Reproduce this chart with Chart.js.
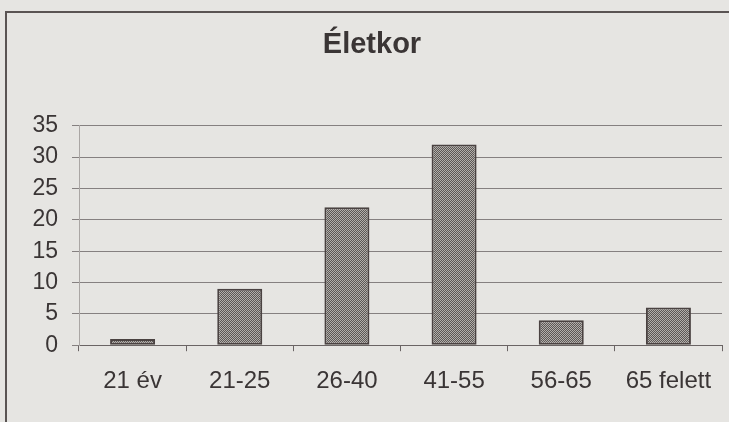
<!DOCTYPE html>
<html>
<head>
<meta charset="utf-8">
<script src="https://cdn.jsdelivr.net/npm/chart.js@4"></script>
<style>
  html, body { margin: 0; padding: 0; background: #e6e5e2; }
  #wrap { position: relative; width: 729px; height: 422px; overflow: hidden; }
  #frame {
    position: absolute; left: 5px; top: 11px; width: 740px; height: 430px;
    border-left: 2px solid #5a5453; border-top: 2px solid #5a5453;
  }
  canvas { position: absolute; left: 0; top: 0; }
</style>
</head>
<body>
<div id="wrap">
  <div id="frame"></div>
  <canvas id="myChart" width="729" height="422"></canvas>
</div>
<script>
// Életkor
var chartTitle = 'Életkor';
var ageGroups = ['21 év', '21-25', '26-40', '41-55', '56-65', '65 felett'];
var counts = [1, 9, 22, 32, 4, 6];
var yTicks = [0, 5, 10, 15, 20, 25, 30, 35];

// pöttyös minta az oszlopokhoz
function makePattern() {
    var pc = document.createElement('canvas');
    pc.width = 2;
    pc.height = 2;
    var p = pc.getContext('2d');
    p.fillStyle = '#5c5755';
    p.fillRect(0, 0, 2, 2);
    p.fillStyle = '#b2afab';
    p.fillRect(0, 0, 1, 1);
    p.fillRect(1, 1, 1, 1);
    return p.createPattern(pc, 'repeat');
}

var textColor = '#3a3535';
var font = "'Liberation Sans', Arial, sans-serif";

var ctx = document.getElementById('myChart').getContext('2d');

var config = {
    type: 'bar',
    data: {
        labels: ageGroups,
        datasets: [{
            data: counts,
            backgroundColor: makePattern(),
            borderColor: '#4a4241',
            borderWidth: 2,
            borderSkipped: false,
            barPercentage: 0.42,
            categoryPercentage: 1
        }]
    },
    options: {
        responsive: false,
        animation: false,
        devicePixelRatio: 1,
        layout: {
            padding: { left: 22, right: 7, top: 0, bottom: 10 }
        },
        plugins: {
            legend: { display: false },
            tooltip: { enabled: false },
            title: {
                display: true,
                text: chartTitle,
                color: textColor,
                font: { family: font, size: 29, weight: 'bold' },
                padding: { top: 28, bottom: 63 }
            }
        },
        scales: {
            x: {
                grid: {
                    offset: true,
                    drawOnChartArea: false,
                    drawTicks: true,
                    tickLength: 6,
                    color: '#6a6464'
                },
                border: { display: true, color: '#6a6464', width: 1 },
                ticks: {
                    color: textColor,
                    padding: 16,
                    maxRotation: 0,
                    font: { family: font, size: 24 }
                }
            },
            y: {
                min: 0,
                max: 35,
                afterBuildTicks: function(scale) {
                    scale.ticks = yTicks.map(function(v) { return { value: v }; });
                },
                afterFit: function(scale) {
                    scale.width = 57;
                },
                grid: {
                    color: '#858080',
                    lineWidth: 1,
                    drawTicks: true,
                    tickLength: 7
                },
                border: { display: true, color: '#aaa6a4', width: 1 },
                ticks: {
                    color: textColor,
                    padding: 14,
                    font: { family: font, size: 23 }
                }
            }
        }
    }
};

var ageChart = new Chart(ctx, config);
</script>
</body>
</html>
